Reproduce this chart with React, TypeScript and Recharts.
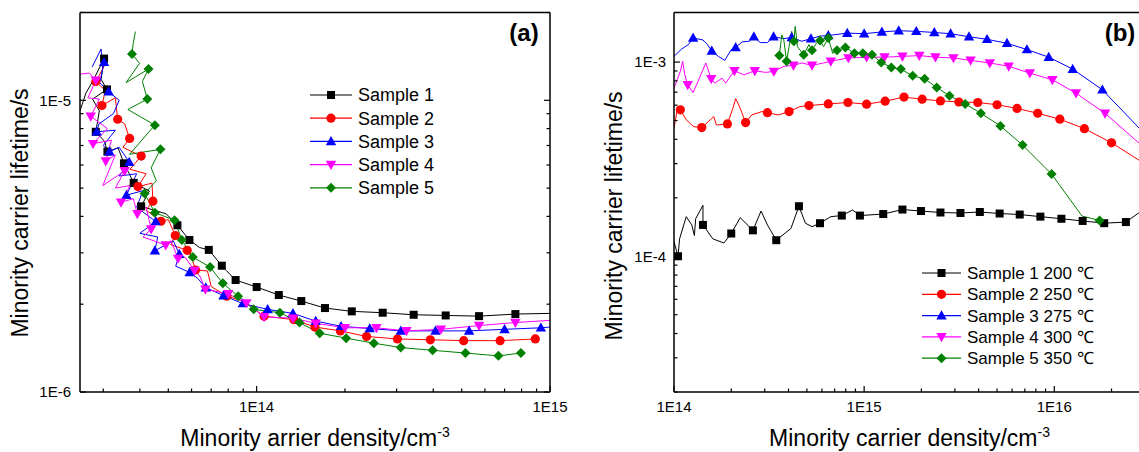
import { LineChart, Line, XAxis, YAxis, Legend } from "recharts";

// [density, lifetime, marker?]
type Pt = [number, number, number];

const FONT = '"Liberation Sans", Arial, Helvetica, sans-serif';

// ─── Panel (a) data ─────────────────────────────────────────

const s1a: Pt[] = [
  [2.5e13, 9.2e-6, 0], [2.62e13, 1.06e-5, 0], [2.76e13, 1.16e-5, 0], [3.02e13, 1.39e-5, 1],
  [2.95e13, 1.18e-5, 0], [3.09e13, 1.09e-5, 1], [2.76e13, 1.01e-5, 0], [2.91e13, 9.2e-6, 0],
  [2.83e13, 7.8e-6, 1], [3.03e13, 7.24e-6, 0], [3.1e13, 6.67e-6, 1], [3.37e13, 6.87e-6, 0],
  [3.53e13, 6.08e-6, 1], [3.69e13, 5.57e-6, 0], [3.81e13, 5.21e-6, 1], [4.31e13, 4.89e-6, 0],
  [4.04e13, 4.33e-6, 1], [4.92e13, 4.08e-6, 0], [5.37e13, 3.73e-6, 1], [5.9e13, 3.32e-6, 1],
  [6.38e13, 3.13e-6, 0], [6.87e13, 3.07e-6, 1], [7.61e13, 2.71e-6, 1], [7.88e13, 2.61e-6, 0],
  [8.48e13, 2.42e-6, 1], [1.0e14, 2.29e-6, 1], [1.19e14, 2.15e-6, 1], [1.42e14, 2.05e-6, 1],
  [1.71e14, 1.94e-6, 1], [2.11e14, 1.89e-6, 1], [2.69e14, 1.87e-6, 1], [3.43e14, 1.84e-6, 1],
  [4.41e14, 1.83e-6, 1], [5.73e14, 1.82e-6, 1], [7.62e14, 1.85e-6, 1], [1e15, 1.86e-6, 0],
];

const s2a: Pt[] = [
  [3.1e13, 1.38e-5, 0], [2.95e13, 1.25e-5, 0], [2.83e13, 1.16e-5, 1], [3.05e13, 1.08e-5, 0],
  [2.97e13, 9.6e-6, 1], [3.3e13, 1.02e-5, 0], [3.36e13, 8.61e-6, 1], [3.55e13, 8.3e-6, 0],
  [3.69e13, 7.4e-6, 1], [3.5e13, 6.9e-6, 0], [4.04e13, 6.44e-6, 1], [3.7e13, 5.8e-6, 0],
  [4.2e13, 5.6e-6, 0], [3.94e13, 5.06e-6, 1], [4.4e13, 5.2e-6, 0], [4.43e13, 4.51e-6, 1],
  [4.2e13, 4.2e-6, 0], [4.72e13, 3.85e-6, 1], [5.0e13, 3.9e-6, 0], [5.28e13, 3.44e-6, 1],
  [5.1e13, 3.2e-6, 0], [5.8e13, 3.06e-6, 1], [6.0e13, 2.9e-6, 0], [6.19e13, 2.62e-6, 1],
  [6.8e13, 2.6e-6, 0], [7.0e13, 2.3e-6, 0], [7.91e13, 2.13e-6, 1], [9.0e13, 2.05e-6, 0],
  [1.06e14, 1.82e-6, 1], [1.34e14, 1.77e-6, 1], [1.58e14, 1.67e-6, 1], [1.93e14, 1.62e-6, 1],
  [2.37e14, 1.55e-6, 1], [3.02e14, 1.52e-6, 1], [3.91e14, 1.51e-6, 1], [5.08e14, 1.5e-6, 1],
  [6.76e14, 1.5e-6, 1], [8.91e14, 1.52e-6, 1],
];

const s3a: Pt[] = [
  [2.75e13, 1.3e-5, 0], [2.95e13, 1.5e-5, 0], [2.98e13, 1.3e-5, 0], [3.02e13, 1.35e-5, 1],
  [2.92e13, 1.15e-5, 0], [3.13e13, 1.07e-5, 1], [3.4e13, 1.0e-5, 0], [3.25e13, 9.0e-6, 0],
  [2.9e13, 8.3e-6, 0], [2.85e13, 7.8e-6, 1], [3.3e13, 7.9e-6, 0], [3.0e13, 7.0e-6, 0],
  [3.15e13, 6.67e-6, 1], [3.4e13, 6.9e-6, 0], [3.68e13, 6.14e-6, 1], [3.4e13, 5.5e-6, 0],
  [3.9e13, 5.6e-6, 0], [3.6e13, 4.73e-6, 1], [4.1e13, 4.9e-6, 0], [3.9e13, 4.3e-6, 0],
  [4.53e13, 3.84e-6, 1], [4.0e13, 3.5e-6, 0], [4.6e13, 3.4e-6, 0], [4.5e13, 3.05e-6, 1],
  [5.2e13, 3.3e-6, 0], [5.45e13, 2.97e-6, 1], [5.3e13, 2.7e-6, 0], [5.91e13, 2.57e-6, 1],
  [6.3e13, 2.45e-6, 0], [6.71e13, 2.28e-6, 1], [7.71e13, 2.14e-6, 1], [8.97e13, 2.01e-6, 1],
  [1.09e14, 1.92e-6, 1], [1.33e14, 1.86e-6, 1], [1.59e14, 1.75e-6, 1], [1.94e14, 1.68e-6, 1],
  [2.43e14, 1.65e-6, 1], [3.1e14, 1.62e-6, 1], [4.07e14, 1.62e-6, 1], [5.3e14, 1.62e-6, 1],
  [7.0e14, 1.64e-6, 1], [9.31e14, 1.66e-6, 1], [1e15, 1.67e-6, 0],
];

const s4a: Pt[] = [
  [2.5e13, 1.23e-5, 0], [2.69e13, 1.24e-5, 0], [2.83e13, 1.17e-5, 1], [2.66e13, 1.02e-5, 0],
  [2.91e13, 1.01e-5, 0], [2.72e13, 8.81e-6, 1], [3.1e13, 8.0e-6, 0], [2.77e13, 7.1e-6, 1],
  [3.2e13, 7.3e-6, 0], [3.06e13, 6.19e-6, 1], [3.3e13, 6.5e-6, 0], [2.99e13, 5.1e-6, 0],
  [3.55e13, 5.73e-6, 1], [3.3e13, 5.0e-6, 0], [3.7e13, 5.1e-6, 0], [3.45e13, 4.47e-6, 1],
  [3.8e13, 4.6e-6, 0], [3.92e13, 4.08e-6, 1], [4.2e13, 4.3e-6, 0], [4.37e13, 3.62e-6, 1],
  [4.1e13, 3.4e-6, 0], [4.9e13, 3.19e-6, 1], [5.1e13, 3.3e-6, 0], [5.4e13, 2.87e-6, 1],
  [5.7e13, 2.9e-6, 0], [6.14e13, 2.61e-6, 1], [6.4e13, 2.5e-6, 0], [6.69e13, 2.25e-6, 1],
  [8.0e13, 2.17e-6, 1], [9.23e13, 2.02e-6, 1], [1.06e14, 1.81e-6, 1], [1.33e14, 1.79e-6, 1],
  [1.59e14, 1.72e-6, 1], [2.0e14, 1.66e-6, 1], [2.56e14, 1.66e-6, 1], [3.24e14, 1.62e-6, 1],
  [4.25e14, 1.64e-6, 1], [5.73e14, 1.69e-6, 1], [7.62e14, 1.73e-6, 1], [1e15, 1.76e-6, 0],
];

const s5a: Pt[] = [
  [3.86e13, 1.72e-5, 0], [3.79e13, 1.55e-5, 0], [3.76e13, 1.44e-5, 1], [3.99e13, 1.34e-5, 0],
  [3.59e13, 1.15e-5, 0], [4.28e13, 1.28e-5, 1], [4.08e13, 1.16e-5, 0], [4.24e13, 1.01e-5, 1],
  [3.64e13, 9.3e-6, 0], [4.5e13, 8.22e-6, 1], [3.69e13, 6.53e-6, 0], [4.7e13, 6.79e-6, 1],
  [4.37e13, 5.87e-6, 0], [4.55e13, 5.3e-6, 0], [4.15e13, 4.79e-6, 1], [4.5e13, 4.12e-6, 1],
  [5.25e13, 3.88e-6, 1], [5.56e13, 3.32e-6, 1], [6.06e13, 2.9e-6, 1], [6.94e13, 2.68e-6, 1],
  [7.67e13, 2.36e-6, 1], [8.65e13, 2.13e-6, 1], [9.77e13, 1.92e-6, 1], [1.2e14, 1.87e-6, 1],
  [1.4e14, 1.73e-6, 1], [1.64e14, 1.59e-6, 1], [2.02e14, 1.53e-6, 1], [2.51e14, 1.47e-6, 1],
  [3.1e14, 1.42e-6, 1], [3.98e14, 1.39e-6, 1], [5.15e14, 1.36e-6, 1], [6.67e14, 1.33e-6, 1],
  [7.96e14, 1.36e-6, 1],
];

// ─── Panel (b) data ─────────────────────────────────────────

const s1b: Pt[] = [
  [1.0e14, 1.19e-4, 0], [1.05e14, 1.0e-4, 1], [1.07e14, 1.23e-4, 0], [1.16e14, 1.6e-4, 0],
  [1.24e14, 1.45e-4, 0], [1.28e14, 1.28e-4, 0], [1.3e14, 1.56e-4, 0], [1.42e14, 1.83e-4, 0],
  [1.42e14, 1.45e-4, 1], [1.6e14, 1.23e-4, 0], [1.83e14, 1.17e-4, 0], [2.0e14, 1.31e-4, 1],
  [2.23e14, 1.58e-4, 0], [2.6e14, 1.36e-4, 1], [2.87e14, 1.71e-4, 0], [3.1e14, 1.45e-4, 0],
  [3.45e14, 1.21e-4, 1], [4.12e14, 1.39e-4, 0], [4.54e14, 1.81e-4, 1], [4.91e14, 1.48e-4, 0],
  [5.32e14, 1.42e-4, 0], [5.86e14, 1.48e-4, 1], [6.68e14, 1.6e-4, 0], [7.63e14, 1.62e-4, 1],
  [8.7e14, 1.73e-4, 0], [9.5e14, 1.62e-4, 1], [1.26e15, 1.65e-4, 1], [1.59e15, 1.74e-4, 1],
  [1.99e15, 1.71e-4, 1], [2.52e15, 1.68e-4, 1], [3.21e15, 1.67e-4, 1], [4.06e15, 1.69e-4, 1],
  [5.16e15, 1.66e-4, 1], [6.58e15, 1.64e-4, 1], [8.45e15, 1.6e-4, 1], [1.09e16, 1.56e-4, 1],
  [1.41e16, 1.52e-4, 1], [1.83e16, 1.48e-4, 1], [2.38e16, 1.5e-4, 1], [2.8e16, 1.68e-4, 0],
  [3.0e16, 1.75e-4, 0],
];

const s2b: Pt[] = [
  [1.0e14, 4.56e-4, 0], [1.04e14, 5.68e-4, 0], [1.08e14, 5.68e-4, 1], [1.16e14, 5.04e-4, 0],
  [1.27e14, 4.65e-4, 0], [1.4e14, 4.6e-4, 1], [1.62e14, 5.24e-4, 0], [1.67e14, 4.74e-4, 0],
  [1.91e14, 4.8e-4, 1], [2.04e14, 5.78e-4, 0], [2.11e14, 6.49e-4, 0], [2.23e14, 5.78e-4, 0],
  [2.38e14, 4.88e-4, 1], [2.56e14, 5.34e-4, 0], [2.9e14, 5.56e-4, 0], [3.1e14, 5.49e-4, 1],
  [3.53e14, 5.34e-4, 0], [4.03e14, 5.56e-4, 1], [4.6e14, 5.9e-4, 0], [5.13e14, 5.97e-4, 1],
  [6.48e14, 6.09e-4, 1], [8.22e14, 6.19e-4, 1], [1.03e15, 6.07e-4, 1], [1.29e15, 6.29e-4, 1],
  [1.62e15, 6.6e-4, 1], [2.02e15, 6.44e-4, 1], [2.52e15, 6.31e-4, 1], [3.15e15, 6.23e-4, 1],
  [3.96e15, 6.19e-4, 1], [5.0e15, 6.03e-4, 1], [6.37e15, 5.77e-4, 1], [8.18e15, 5.45e-4, 1],
  [1.07e16, 5.08e-4, 1], [1.44e16, 4.54e-4, 1], [2.0e16, 3.84e-4, 1], [2.9e16, 3.05e-4, 0],
];

const s3b: Pt[] = [
  [1.0e14, 1.07e-3, 0], [1.1e14, 1.17e-3, 0], [1.19e14, 1.23e-3, 0], [1.26e14, 1.33e-3, 1],
  [1.42e14, 1.3e-3, 0], [1.5e14, 1.23e-3, 0], [1.58e14, 1.14e-3, 1], [1.71e14, 1.07e-3, 0],
  [1.85e14, 1.02e-3, 0], [2.0e14, 1.16e-3, 0], [2.11e14, 1.19e-3, 1], [2.28e14, 1.27e-3, 0],
  [2.49e14, 1.28e-3, 0], [2.63e14, 1.35e-3, 1], [2.84e14, 1.26e-3, 0], [3.1e14, 1.26e-3, 0],
  [3.34e14, 1.35e-3, 1], [3.78e14, 1.32e-3, 0], [4.16e14, 1.34e-3, 1], [4.7e14, 1.28e-3, 0],
  [5.25e14, 1.32e-3, 1], [5.86e14, 1.36e-3, 0], [6.48e14, 1.37e-3, 1], [8.15e14, 1.41e-3, 1],
  [1.0e15, 1.4e-3, 1], [1.24e15, 1.43e-3, 1], [1.52e15, 1.45e-3, 1], [1.88e15, 1.44e-3, 1],
  [2.34e15, 1.42e-3, 1], [2.85e15, 1.4e-3, 1], [3.56e15, 1.35e-3, 1], [4.43e15, 1.31e-3, 1],
  [5.64e15, 1.25e-3, 1], [7.18e15, 1.16e-3, 1], [9.35e15, 1.06e-3, 1], [1.25e16, 9.2e-4, 1],
  [1.79e16, 7.2e-4, 1], [2.9e16, 4.4e-4, 0],
];

const s4b: Pt[] = [
  [1.0e14, 7.35e-4, 0], [1.08e14, 8.95e-4, 0], [1.11e14, 1.01e-3, 0], [1.14e14, 8.59e-4, 0],
  [1.18e14, 7.63e-4, 1], [1.26e14, 6.97e-4, 0], [1.36e14, 8.26e-4, 0], [1.47e14, 9.89e-4, 0],
  [1.57e14, 8.19e-4, 1], [1.64e14, 7.79e-4, 0], [1.79e14, 8.26e-4, 0], [1.87e14, 7.79e-4, 0],
  [2.08e14, 9.02e-4, 1], [2.33e14, 8.59e-4, 0], [2.66e14, 9.02e-4, 1], [3.03e14, 8.85e-4, 0],
  [3.35e14, 8.95e-4, 1], [3.78e14, 9.51e-4, 0], [4.25e14, 9.62e-4, 1], [4.7e14, 9.89e-4, 0],
  [5.32e14, 9.62e-4, 1], [6.12e14, 9.89e-4, 0], [6.68e14, 1.01e-3, 1], [8.26e14, 1.05e-3, 1],
  [1.03e15, 1.06e-3, 1], [1.28e15, 1.06e-3, 1], [1.59e15, 1.07e-3, 1], [1.95e15, 1.08e-3, 1],
  [2.37e15, 1.06e-3, 1], [2.95e15, 1.05e-3, 1], [3.63e15, 1.02e-3, 1], [4.58e15, 9.89e-4, 1],
  [5.76e15, 9.51e-4, 1], [7.44e15, 8.77e-4, 1], [9.77e15, 8.11e-4, 1], [1.3e16, 6.92e-4, 1],
  [1.85e16, 5.45e-4, 1], [2.9e16, 3.7e-4, 0],
];

const s5b: Pt[] = [
  [3.58e14, 1.08e-3, 1], [3.69e14, 1.38e-3, 0], [3.78e14, 1.3e-3, 0], [3.91e14, 1.01e-3, 1],
  [4.03e14, 1.2e-3, 0], [4.16e14, 1.44e-3, 0], [4.27e14, 1.28e-3, 1], [4.34e14, 1.53e-3, 0],
  [4.46e14, 1.2e-3, 0], [4.81e14, 1.09e-3, 1], [5.13e14, 1.23e-3, 0], [5.32e14, 1.15e-3, 1],
  [5.61e14, 1.25e-3, 0], [5.86e14, 1.29e-3, 1], [6.12e14, 1.2e-3, 0], [6.48e14, 1.33e-3, 1],
  [6.83e14, 1.11e-3, 0], [7.2e14, 1.15e-3, 1], [7.63e14, 1.17e-3, 0], [7.97e14, 1.19e-3, 1],
  [8.89e14, 1.11e-3, 1], [9.84e14, 1.11e-3, 1], [1.1e15, 1.09e-3, 1], [1.23e15, 9.95e-4, 1],
  [1.39e15, 9.38e-4, 1], [1.56e15, 9.2e-4, 1], [1.8e15, 8.5e-4, 1], [2.08e15, 8.2e-4, 1],
  [2.41e15, 7.4e-4, 1], [2.81e15, 6.7e-4, 1], [3.4e15, 6.09e-4, 1], [4.11e15, 5.45e-4, 1],
  [5.21e15, 4.69e-4, 1], [6.81e15, 3.74e-4, 1], [9.68e15, 2.65e-4, 1], [1.4e16, 1.61e-4, 0],
  [1.73e16, 1.53e-4, 1],
];

// ─── Axis ticks ─────────────────────────────────────────────

const ticksAX = [3e13, 4e13, 5e13, 6e13, 7e13, 8e13, 9e13, 1e14, 2e14, 3e14, 4e14, 5e14, 6e14, 7e14, 8e14, 9e14, 1e15];
const majorsAX = [1e14, 1e15];
const ticksAY = [1e-6, 2e-6, 3e-6, 4e-6, 5e-6, 6e-6, 7e-6, 8e-6, 9e-6, 1e-5, 2e-5];
const majorsAY = [1e-6, 1e-5];

const ticksBX = [1e14, 2e14, 3e14, 4e14, 5e14, 6e14, 7e14, 8e14, 9e14, 1e15, 2e15, 3e15, 4e15, 5e15, 6e15, 7e15, 8e15, 9e15, 1e16, 2e16, 3e16];
const majorsBX = [1e14, 1e15, 1e16];
const ticksBY = [2e-5, 3e-5, 4e-5, 5e-5, 6e-5, 7e-5, 8e-5, 9e-5, 1e-4, 2e-4, 3e-4, 4e-4, 5e-4, 6e-4, 7e-4, 8e-4, 9e-4, 1e-3];
const majorsBY = [1e-4, 1e-3];

const namesA = ["Sample 1", "Sample 2", "Sample 3", "Sample 4", "Sample 5"];
const namesB = ["Sample 1 200 ℃", "Sample 2 250 ℃", "Sample 3 275 ℃", "Sample 4 300 ℃", "Sample 5 350 ℃"];

const STYLES = [
  { color: "#000000", shape: "square" },
  { color: "#ff0000", shape: "circle" },
  { color: "#0000ff", shape: "up" },
  { color: "#ff00ff", shape: "down" },
  { color: "#008000", shape: "diamond" },
];

const toRows = (pts: Pt[]) => pts.map(([x, y, m]) => ({ x, y, m }));

// ─── Pieces ─────────────────────────────────────────────────

function Marker({ cx, cy, shape, color }: { cx: number; cy: number; shape: string; color: string }) {
  switch (shape) {
    case "square":
      return <rect x={cx - 4} y={cy - 4} width={8} height={8} fill={color} />;
    case "circle":
      return <circle cx={cx} cy={cy} r={4.6} fill={color} />;
    case "up":
      return <polygon points={`${cx},${cy - 5.4} ${cx + 5.2},${cy + 3.8} ${cx - 5.2},${cy + 3.8}`} fill={color} />;
    case "down":
      return <polygon points={`${cx},${cy + 5.4} ${cx + 5.2},${cy - 3.8} ${cx - 5.2},${cy - 3.8}`} fill={color} />;
    default:
      return <polygon points={`${cx},${cy - 5} ${cx + 5},${cy} ${cx},${cy + 5} ${cx - 5},${cy}`} fill={color} />;
  }
}

const isMajor = (v: number, majors: number[]) => majors.some((m) => Math.abs(v - m) / m < 1e-6);
const fmtExp = (v: number) => `1E${Math.round(Math.log10(v))}`;

// ticks point into the plot, on all four sides
function makeTick(side: "bottom" | "top" | "left" | "right", majors: number[], gap: number) {
  return function Tick(props: any) {
    const { x, y, payload } = props;
    const v = payload.value as number;
    const major = isMajor(v, majors);
    const len = major ? 6 : 3.5;
    const s = { stroke: "#000", strokeWidth: 1.2 };
    if (side === "bottom") {
      return (
        <g>
          <line x1={x} y1={y} x2={x} y2={y - len} {...s} />
          {major && (
            <text x={x} y={y + 20} textAnchor="middle" fontSize={15} fontFamily={FONT} fill="#000">
              {fmtExp(v)}
            </text>
          )}
        </g>
      );
    }
    if (side === "top") return <line x1={x} y1={y} x2={x} y2={y + len} {...s} />;
    if (side === "right") return <line x1={x} y1={y} x2={x - len} y2={y} {...s} />;
    return (
      <g>
        <line x1={x} y1={y} x2={x + len} y2={y} {...s} />
        {major && (
          <text x={x - gap} y={y + 5.3} textAnchor="end" fontSize={15} fontFamily={FONT} fill="#000">
            {fmtExp(v)}
          </text>
        )}
      </g>
    );
  };
}

function LegendBox({ names, rowH, lineW, fontSize }: { names: string[]; rowH: number; lineW: number; fontSize: number }) {
  return (
    <svg width={240} height={rowH * names.length + 10}>
      {names.map((n, i) => {
        const cy = 12 + i * rowH;
        const st = STYLES[i];
        return (
          <g key={n}>
            <line x1={5} y1={cy} x2={5 + lineW} y2={cy} stroke={st.color} strokeWidth={1.2} />
            <Marker cx={5 + lineW / 2} cy={cy} shape={st.shape} color={st.color} />
            <text x={11 + lineW} y={cy + fontSize * 0.36} fontSize={fontSize} fontFamily={FONT} fill="#000">
              {n}
            </text>
          </g>
        );
      })}
    </svg>
  );
}

interface PanelProps {
  width: number;
  yWidth: number;
  right: number;
  series: Pt[][];
  xDomain: [number, number];
  yDomain: [number, number];
  xTicks: number[];
  xMajors: number[];
  yTicks: number[];
  yMajors: number[];
  labelGap: number;
  names: string[];
  legendLeft: number;
  legendTop: number;
  rowH: number;
  lineW: number;
  legendFont: number;
}

function Panel(p: PanelProps) {
  const axisLine = { stroke: "#000", strokeWidth: 1.5 };
  // secondary axes need a non-zero size or Recharts skips them
  return (
    <LineChart width={p.width} height={452} margin={{ top: 11.5, right: p.right - 1, bottom: 59, left: 0 }}>
      <XAxis
        type="number"
        dataKey="x"
        scale="log"
        domain={p.xDomain}
        allowDataOverflow
        ticks={p.xTicks}
        interval={0}
        tick={makeTick("bottom", p.xMajors, 0)}
        tickSize={0}
        tickMargin={0}
        tickLine={false}
        axisLine={axisLine}
        height={1}
      />
      <XAxis
        xAxisId="top"
        orientation="top"
        type="number"
        scale="log"
        domain={p.xDomain}
        allowDataOverflow
        ticks={p.xTicks}
        interval={0}
        tick={makeTick("top", p.xMajors, 0)}
        tickSize={0}
        tickMargin={0}
        tickLine={false}
        axisLine={axisLine}
        height={1}
      />
      <YAxis
        type="number"
        scale="log"
        domain={p.yDomain}
        allowDataOverflow
        ticks={p.yTicks}
        interval={0}
        tick={makeTick("left", p.yMajors, p.labelGap)}
        tickSize={0}
        tickMargin={0}
        tickLine={false}
        axisLine={axisLine}
        width={p.yWidth}
      />
      <YAxis
        yAxisId="right"
        orientation="right"
        type="number"
        scale="log"
        domain={p.yDomain}
        allowDataOverflow
        ticks={p.yTicks}
        interval={0}
        tick={makeTick("right", p.yMajors, 0)}
        tickSize={0}
        tickMargin={0}
        tickLine={false}
        axisLine={axisLine}
        width={1}
      />
      <Legend
        layout="vertical"
        align="center"
        verticalAlign="middle"
        wrapperStyle={{ left: p.legendLeft, top: p.legendTop, width: 240 }}
        content={() => <LegendBox names={p.names} rowH={p.rowH} lineW={p.lineW} fontSize={p.legendFont} />}
      />
      {p.series.map((pts, i) => (
        <Line
          key={p.names[i]}
          name={p.names[i]}
          data={toRows(pts)}
          dataKey="y"
          type="linear"
          stroke={STYLES[i].color}
          strokeWidth={1}
          isAnimationActive={false}
          activeDot={false}
          dot={(d: any) =>
            d.payload.m ? (
              <Marker key={`m${i}-${d.index}`} cx={d.cx} cy={d.cy} shape={STYLES[i].shape} color={STYLES[i].color} />
            ) : (
              <g key={`m${i}-${d.index}`} />
            )
          }
        />
      ))}
    </LineChart>
  );
}

const titleStyle: React.CSSProperties = {
  position: "absolute",
  fontSize: 23,
  lineHeight: "23px",
  whiteSpace: "nowrap",
  color: "#000",
};

const sup: React.CSSProperties = { fontSize: 14, position: "relative", top: -9 };

export default function App() {
  return (
    <div
      style={{
        position: "absolute",
        left: 0,
        top: 0,
        width: 1139,
        height: 452,
        overflow: "hidden",
        background: "#fff",
        fontFamily: FONT,
      }}
    >
      <div style={{ position: "absolute", left: 0, top: 0 }}>
        <Panel
          width={570}
          yWidth={80}
          right={20}
          series={[s1a, s2a, s3a, s4a, s5a]}
          xDomain={[2.5e13, 1e15]}
          yDomain={[1e-6, 2e-5]}
          xTicks={ticksAX}
          xMajors={majorsAX}
          yTicks={ticksAY}
          yMajors={majorsAY}
          labelGap={9}
          names={namesA}
          legendLeft={305}
          legendTop={83}
          rowH={23.2}
          lineW={42}
          legendFont={18}
        />
      </div>
      <div style={{ position: "absolute", left: 570, top: 0 }}>
        <Panel
          width={585}
          yWidth={104}
          right={10}
          series={[s1b, s2b, s3b, s4b, s5b]}
          xDomain={[1e14, 3e16]}
          yDomain={[2e-5, 1.8e-3]}
          xTicks={ticksBX}
          xMajors={majorsBX}
          yTicks={ticksBY}
          yMajors={majorsBY}
          labelGap={8}
          names={namesB}
          legendLeft={347}
          legendTop={261}
          rowH={21.3}
          lineW={39}
          legendFont={17}
        />
      </div>

      <div style={{ ...titleStyle, left: 80, width: 470, top: 427, textAlign: "center" }}>
        Minority arrier density/cm<span style={sup}>-3</span>
      </div>
      <div style={{ ...titleStyle, left: 20, top: 213, transform: "translate(-50%, -50%) rotate(-90deg)" }}>
        Minority carrier lifetime/s
      </div>
      <div style={{ ...titleStyle, left: 674, width: 471, top: 427, textAlign: "center" }}>
        Minority carrier density/cm<span style={sup}>-3</span>
      </div>
      <div style={{ ...titleStyle, left: 614, top: 216, transform: "translate(-50%, -50%) rotate(-90deg)" }}>
        Minority carrier lifetime/s
      </div>

      <div style={{ ...titleStyle, left: 524, top: 32, fontSize: 24, fontWeight: "bold", transform: "translate(-50%, -50%)" }}>
        (a)
      </div>
      <div style={{ ...titleStyle, left: 1120, top: 32, fontSize: 24, fontWeight: "bold", transform: "translate(-50%, -50%)" }}>
        (b)
      </div>
    </div>
  );
}
